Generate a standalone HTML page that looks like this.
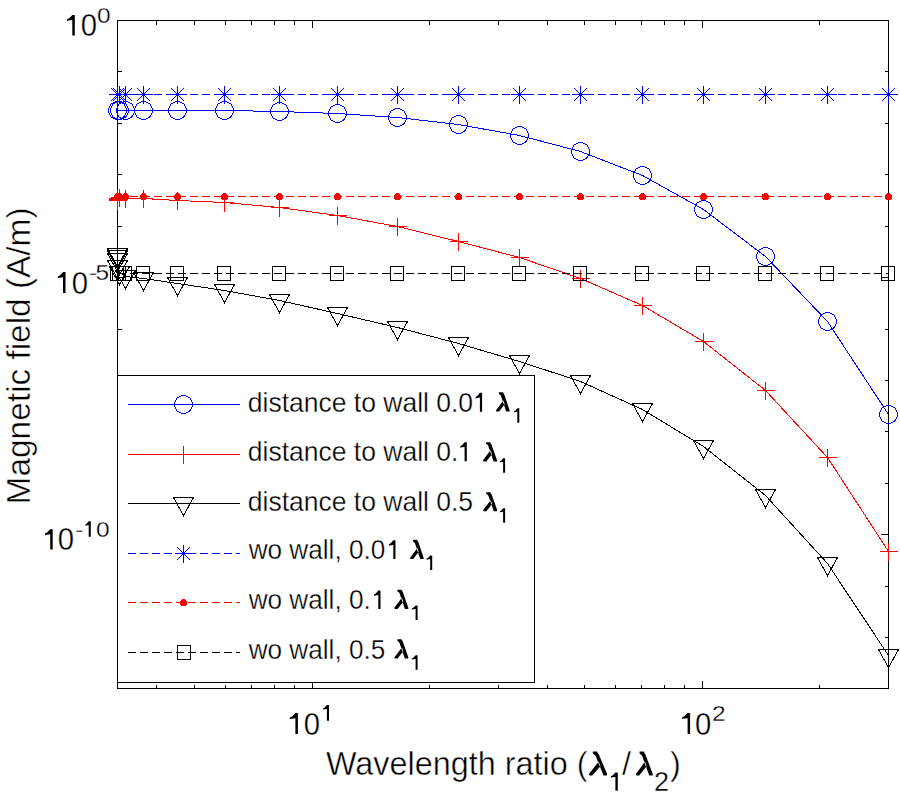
<!DOCTYPE html>
<html><head><meta charset="utf-8"><title>Magnetic field vs wavelength ratio</title>
<style>
html,body{margin:0;padding:0;background:#fff;width:900px;height:800px;overflow:hidden}
svg{position:absolute;left:0;top:0;display:block}
text{font-family:"Liberation Sans",sans-serif;fill:#000000;stroke:#fff;stroke-width:0.3px}
</style></head><body>
<svg width="900" height="800" viewBox="0 0 900 800" stroke-width="1" shape-rendering="crispEdges">
<rect x="0" y="0" width="900" height="800" fill="#fff"/>
<path d="M156.5 688.5V684.5M156.5 20.5V24.5M194.5 688.5V684.5M194.5 20.5V24.5M225.5 688.5V684.5M225.5 20.5V24.5M251.5 688.5V684.5M251.5 20.5V24.5M274.5 688.5V684.5M274.5 20.5V24.5M294.5 688.5V684.5M294.5 20.5V24.5M312.5 688.5V681M312.5 20.5V28M429.5 688.5V684.5M429.5 20.5V24.5M498.5 688.5V684.5M498.5 20.5V24.5M547.5 688.5V684.5M547.5 20.5V24.5M584.5 688.5V684.5M584.5 20.5V24.5M615.5 688.5V684.5M615.5 20.5V24.5M641.5 688.5V684.5M641.5 20.5V24.5M664.5 688.5V684.5M664.5 20.5V24.5M684.5 688.5V684.5M684.5 20.5V24.5M702.5 688.5V681M702.5 20.5V28M819.5 688.5V684.5M819.5 20.5V24.5M888.5 688.5V684.5M888.5 20.5V24.5M117.5 20.5H125.5M888.5 20.5H880.5M117.5 71.5H121.5M888.5 71.5H884.5M117.5 123.5H121.5M888.5 123.5H884.5M117.5 174.5H121.5M888.5 174.5H884.5M117.5 226.5H121.5M888.5 226.5H884.5M117.5 277.5H125.5M888.5 277.5H880.5M117.5 329.5H121.5M888.5 329.5H884.5M117.5 380.5H121.5M888.5 380.5H884.5M117.5 431.5H121.5M888.5 431.5H884.5M117.5 483.5H121.5M888.5 483.5H884.5M117.5 534.5H125.5M888.5 534.5H880.5M117.5 586.5H121.5M888.5 586.5H884.5M117.5 637.5H121.5M888.5 637.5H884.5M117.5 688.5H121.5M888.5 688.5H884.5" stroke="#000000" fill="none"/>
<rect x="117.5" y="20.5" width="771.0" height="668.0" fill="none" stroke="#000000"/>
<polyline points="117.5,110.5 117.5,110.5 117.5,110.5 117.5,110.5 119.5,110.5 125.5,110.5 143.5,110.5 177.5,110.5 224.5,110.5 279.5,111.5 337.5,113.5 397.5,117.5 458.5,124.5 519.5,135.5 580.5,151.5 642.5,175.5 703.5,209.5 765.5,256.5 827.5,321.5 888.5,414.5" fill="none" stroke="#0000ff" stroke-width="1"/>
<circle cx="117.5" cy="110.5" r="9" fill="none" stroke="#0000ff"/>
<circle cx="117.5" cy="110.5" r="9" fill="none" stroke="#0000ff"/>
<circle cx="117.5" cy="110.5" r="9" fill="none" stroke="#0000ff"/>
<circle cx="117.5" cy="110.5" r="9" fill="none" stroke="#0000ff"/>
<circle cx="119.5" cy="110.5" r="9" fill="none" stroke="#0000ff"/>
<circle cx="125.5" cy="110.5" r="9" fill="none" stroke="#0000ff"/>
<circle cx="143.5" cy="110.5" r="9" fill="none" stroke="#0000ff"/>
<circle cx="177.5" cy="110.5" r="9" fill="none" stroke="#0000ff"/>
<circle cx="224.5" cy="110.5" r="9" fill="none" stroke="#0000ff"/>
<circle cx="279.5" cy="111.5" r="9" fill="none" stroke="#0000ff"/>
<circle cx="337.5" cy="113.5" r="9" fill="none" stroke="#0000ff"/>
<circle cx="397.5" cy="117.5" r="9" fill="none" stroke="#0000ff"/>
<circle cx="458.5" cy="124.5" r="9" fill="none" stroke="#0000ff"/>
<circle cx="519.5" cy="135.5" r="9" fill="none" stroke="#0000ff"/>
<circle cx="580.5" cy="151.5" r="9" fill="none" stroke="#0000ff"/>
<circle cx="642.5" cy="175.5" r="9" fill="none" stroke="#0000ff"/>
<circle cx="703.5" cy="209.5" r="9" fill="none" stroke="#0000ff"/>
<circle cx="765.5" cy="256.5" r="9" fill="none" stroke="#0000ff"/>
<circle cx="827.5" cy="321.5" r="9" fill="none" stroke="#0000ff"/>
<circle cx="888.5" cy="414.5" r="9" fill="none" stroke="#0000ff"/>
<polyline points="117.5,200.5 117.5,199.5 117.5,198.5 117.5,198.5 119.5,197.5 125.5,198.5 143.5,198.5 177.5,200.5 224.5,202.5 279.5,207.5 337.5,215.5 397.5,226.5 458.5,241.5 519.5,257.5 580.5,278.5 642.5,305.5 703.5,341.5 765.5,390.5 827.5,457.5 888.5,551.5" fill="none" stroke="#ff0000" stroke-width="1"/>
<path d="M108.5 200.5H126.5M117.5 191.5V209.5" stroke="#ff0000"/>
<path d="M108.5 199.5H126.5M117.5 190.5V208.5" stroke="#ff0000"/>
<path d="M108.5 198.5H126.5M117.5 189.5V207.5" stroke="#ff0000"/>
<path d="M108.5 198.5H126.5M117.5 189.5V207.5" stroke="#ff0000"/>
<path d="M110.5 197.5H128.5M119.5 188.5V206.5" stroke="#ff0000"/>
<path d="M116.5 198.5H134.5M125.5 189.5V207.5" stroke="#ff0000"/>
<path d="M134.5 198.5H152.5M143.5 189.5V207.5" stroke="#ff0000"/>
<path d="M168.5 200.5H186.5M177.5 191.5V209.5" stroke="#ff0000"/>
<path d="M215.5 202.5H233.5M224.5 193.5V211.5" stroke="#ff0000"/>
<path d="M270.5 207.5H288.5M279.5 198.5V216.5" stroke="#ff0000"/>
<path d="M328.5 215.5H346.5M337.5 206.5V224.5" stroke="#ff0000"/>
<path d="M388.5 226.5H406.5M397.5 217.5V235.5" stroke="#ff0000"/>
<path d="M449.5 241.5H467.5M458.5 232.5V250.5" stroke="#ff0000"/>
<path d="M510.5 257.5H528.5M519.5 248.5V266.5" stroke="#ff0000"/>
<path d="M571.5 278.5H589.5M580.5 269.5V287.5" stroke="#ff0000"/>
<path d="M633.5 305.5H651.5M642.5 296.5V314.5" stroke="#ff0000"/>
<path d="M694.5 341.5H712.5M703.5 332.5V350.5" stroke="#ff0000"/>
<path d="M756.5 390.5H774.5M765.5 381.5V399.5" stroke="#ff0000"/>
<path d="M818.5 457.5H836.5M827.5 448.5V466.5" stroke="#ff0000"/>
<path d="M879.5 551.5H897.5M888.5 542.5V560.5" stroke="#ff0000"/>
<polyline points="117.5,254.5 117.5,256.5 117.5,259.5 117.5,266.5 119.5,272.5 125.5,276.5 143.5,278.5 177.5,283.5 224.5,290.5 279.5,300.5 337.5,313.5 397.5,327.5 458.5,343.5 519.5,361.5 580.5,381.5 642.5,409.5 703.5,446.5 765.5,495.5 827.5,563.5 888.5,655.5" fill="none" stroke="#000000" stroke-width="1"/>
<path d="M107.5 248.5H127.5L117.5 266.5Z" fill="none" stroke="#000000"/>
<path d="M107.5 250.5H127.5L117.5 268.5Z" fill="none" stroke="#000000"/>
<path d="M107.5 253.5H127.5L117.5 271.5Z" fill="none" stroke="#000000"/>
<path d="M107.5 260.5H127.5L117.5 278.5Z" fill="none" stroke="#000000"/>
<path d="M109.5 266.5H129.5L119.5 284.5Z" fill="none" stroke="#000000"/>
<path d="M115.5 270.5H135.5L125.5 288.5Z" fill="none" stroke="#000000"/>
<path d="M133.5 272.5H153.5L143.5 290.5Z" fill="none" stroke="#000000"/>
<path d="M167.5 277.5H187.5L177.5 295.5Z" fill="none" stroke="#000000"/>
<path d="M214.5 284.5H234.5L224.5 302.5Z" fill="none" stroke="#000000"/>
<path d="M269.5 294.5H289.5L279.5 312.5Z" fill="none" stroke="#000000"/>
<path d="M327.5 307.5H347.5L337.5 325.5Z" fill="none" stroke="#000000"/>
<path d="M387.5 321.5H407.5L397.5 339.5Z" fill="none" stroke="#000000"/>
<path d="M448.5 337.5H468.5L458.5 355.5Z" fill="none" stroke="#000000"/>
<path d="M509.5 355.5H529.5L519.5 373.5Z" fill="none" stroke="#000000"/>
<path d="M570.5 375.5H590.5L580.5 393.5Z" fill="none" stroke="#000000"/>
<path d="M632.5 403.5H652.5L642.5 421.5Z" fill="none" stroke="#000000"/>
<path d="M693.5 440.5H713.5L703.5 458.5Z" fill="none" stroke="#000000"/>
<path d="M755.5 489.5H775.5L765.5 507.5Z" fill="none" stroke="#000000"/>
<path d="M817.5 557.5H837.5L827.5 575.5Z" fill="none" stroke="#000000"/>
<path d="M878.5 649.5H898.5L888.5 667.5Z" fill="none" stroke="#000000"/>
<path d="M117.5 94.5H888.5" stroke="#0000ff" stroke-dasharray="8 4"/>
<path d="M108.5 94.5H126.5M117.5 85.5V103.5M111 88L124 101M111 101L124 88" stroke="#0000ff"/>
<path d="M108.5 94.5H126.5M117.5 85.5V103.5M111 88L124 101M111 101L124 88" stroke="#0000ff"/>
<path d="M108.5 94.5H126.5M117.5 85.5V103.5M111 88L124 101M111 101L124 88" stroke="#0000ff"/>
<path d="M108.5 94.5H126.5M117.5 85.5V103.5M111 88L124 101M111 101L124 88" stroke="#0000ff"/>
<path d="M110.5 94.5H128.5M119.5 85.5V103.5M113 88L126 101M113 101L126 88" stroke="#0000ff"/>
<path d="M116.5 94.5H134.5M125.5 85.5V103.5M119 88L132 101M119 101L132 88" stroke="#0000ff"/>
<path d="M134.5 94.5H152.5M143.5 85.5V103.5M137 88L150 101M137 101L150 88" stroke="#0000ff"/>
<path d="M168.5 94.5H186.5M177.5 85.5V103.5M171 88L184 101M171 101L184 88" stroke="#0000ff"/>
<path d="M215.5 94.5H233.5M224.5 85.5V103.5M218 88L231 101M218 101L231 88" stroke="#0000ff"/>
<path d="M270.5 94.5H288.5M279.5 85.5V103.5M273 88L286 101M273 101L286 88" stroke="#0000ff"/>
<path d="M328.5 94.5H346.5M337.5 85.5V103.5M331 88L344 101M331 101L344 88" stroke="#0000ff"/>
<path d="M388.5 94.5H406.5M397.5 85.5V103.5M391 88L404 101M391 101L404 88" stroke="#0000ff"/>
<path d="M449.5 94.5H467.5M458.5 85.5V103.5M452 88L465 101M452 101L465 88" stroke="#0000ff"/>
<path d="M510.5 94.5H528.5M519.5 85.5V103.5M513 88L526 101M513 101L526 88" stroke="#0000ff"/>
<path d="M571.5 94.5H589.5M580.5 85.5V103.5M574 88L587 101M574 101L587 88" stroke="#0000ff"/>
<path d="M633.5 94.5H651.5M642.5 85.5V103.5M636 88L649 101M636 101L649 88" stroke="#0000ff"/>
<path d="M694.5 94.5H712.5M703.5 85.5V103.5M697 88L710 101M697 101L710 88" stroke="#0000ff"/>
<path d="M756.5 94.5H774.5M765.5 85.5V103.5M759 88L772 101M759 101L772 88" stroke="#0000ff"/>
<path d="M818.5 94.5H836.5M827.5 85.5V103.5M821 88L834 101M821 101L834 88" stroke="#0000ff"/>
<path d="M879.5 94.5H897.5M888.5 85.5V103.5M882 88L895 101M882 101L895 88" stroke="#0000ff"/>
<path d="M117.5 196.5H888.5" stroke="#ff0000" stroke-dasharray="8 4"/>
<circle cx="117.5" cy="196.5" r="3.5" fill="#ff0000"/>
<circle cx="117.5" cy="196.5" r="3.5" fill="#ff0000"/>
<circle cx="117.5" cy="196.5" r="3.5" fill="#ff0000"/>
<circle cx="117.5" cy="196.5" r="3.5" fill="#ff0000"/>
<circle cx="119.5" cy="196.5" r="3.5" fill="#ff0000"/>
<circle cx="125.5" cy="196.5" r="3.5" fill="#ff0000"/>
<circle cx="143.5" cy="196.5" r="3.5" fill="#ff0000"/>
<circle cx="177.5" cy="196.5" r="3.5" fill="#ff0000"/>
<circle cx="224.5" cy="196.5" r="3.5" fill="#ff0000"/>
<circle cx="279.5" cy="196.5" r="3.5" fill="#ff0000"/>
<circle cx="337.5" cy="196.5" r="3.5" fill="#ff0000"/>
<circle cx="397.5" cy="196.5" r="3.5" fill="#ff0000"/>
<circle cx="458.5" cy="196.5" r="3.5" fill="#ff0000"/>
<circle cx="519.5" cy="196.5" r="3.5" fill="#ff0000"/>
<circle cx="580.5" cy="196.5" r="3.5" fill="#ff0000"/>
<circle cx="642.5" cy="196.5" r="3.5" fill="#ff0000"/>
<circle cx="703.5" cy="196.5" r="3.5" fill="#ff0000"/>
<circle cx="765.5" cy="196.5" r="3.5" fill="#ff0000"/>
<circle cx="827.5" cy="196.5" r="3.5" fill="#ff0000"/>
<circle cx="888.5" cy="196.5" r="3.5" fill="#ff0000"/>
<path d="M117.5 273.5H888.5" stroke="#000000" stroke-dasharray="8 4"/>
<rect x="110.5" y="266.5" width="13" height="14" fill="none" stroke="#000000"/>
<rect x="110.5" y="266.5" width="13" height="14" fill="none" stroke="#000000"/>
<rect x="110.5" y="266.5" width="13" height="14" fill="none" stroke="#000000"/>
<rect x="110.5" y="266.5" width="13" height="14" fill="none" stroke="#000000"/>
<rect x="112.5" y="266.5" width="13" height="14" fill="none" stroke="#000000"/>
<rect x="118.5" y="266.5" width="13" height="14" fill="none" stroke="#000000"/>
<rect x="136.5" y="266.5" width="13" height="14" fill="none" stroke="#000000"/>
<rect x="170.5" y="266.5" width="13" height="14" fill="none" stroke="#000000"/>
<rect x="217.5" y="266.5" width="13" height="14" fill="none" stroke="#000000"/>
<rect x="272.5" y="266.5" width="13" height="14" fill="none" stroke="#000000"/>
<rect x="330.5" y="266.5" width="13" height="14" fill="none" stroke="#000000"/>
<rect x="390.5" y="266.5" width="13" height="14" fill="none" stroke="#000000"/>
<rect x="451.5" y="266.5" width="13" height="14" fill="none" stroke="#000000"/>
<rect x="512.5" y="266.5" width="13" height="14" fill="none" stroke="#000000"/>
<rect x="573.5" y="266.5" width="13" height="14" fill="none" stroke="#000000"/>
<rect x="635.5" y="266.5" width="13" height="14" fill="none" stroke="#000000"/>
<rect x="696.5" y="266.5" width="13" height="14" fill="none" stroke="#000000"/>
<rect x="758.5" y="266.5" width="13" height="14" fill="none" stroke="#000000"/>
<rect x="820.5" y="266.5" width="13" height="14" fill="none" stroke="#000000"/>
<rect x="881.5" y="266.5" width="13" height="14" fill="none" stroke="#000000"/>
<rect x="117.5" y="375.5" width="417" height="307" fill="#fff" stroke="#000000"/>
<path d="M128 404.5H239.5" stroke="#0000ff"/>
<circle cx="183.5" cy="404.5" r="9" fill="none" stroke="#0000ff"/>
<path d="M128 454.5H239.5" stroke="#ff0000"/>
<path d="M174.5 454.5H192.5M183.5 445.5V463.5" stroke="#ff0000"/>
<path d="M128 503.5H239.5" stroke="#000000"/>
<path d="M173.5 497.5H193.5L183.5 515.5Z" fill="none" stroke="#000000"/>
<path d="M128 553.5H239.5" stroke="#0000ff" stroke-dasharray="8 4"/>
<path d="M174.5 553.5H192.5M183.5 544.5V562.5M177 547L190 560M177 560L190 547" stroke="#0000ff"/>
<path d="M128 602.5H239.5" stroke="#ff0000" stroke-dasharray="8 4"/>
<circle cx="183.5" cy="602.5" r="3.5" fill="#ff0000"/>
<path d="M128 652.5H239.5" stroke="#000000" stroke-dasharray="8 4"/>
<rect x="177.5" y="645.5" width="13" height="14" fill="none" stroke="#000000"/>
<text transform="translate(247.84 411.7) scale(1 1.05)" font-size="26.5" font-weight="normal">distance to wall 0.0</text>
<path d="M479.9 392.8 L482.1 392.8 L482.1 411.8 L479.9 411.8 L479.9 397.55 L477.11 397.93 L475.6 398.41 L475.6 396.88 L477.54 395.65Z" fill="#000000" stroke="none" shape-rendering="geometricPrecision"/>
<text transform="translate(247.84 461.1) scale(1 1.05)" font-size="26.5" font-weight="normal">distance to wall 0.</text>
<path d="M464.6 442.2 L466.8 442.2 L466.8 461.2 L464.6 461.2 L464.6 446.95 L461.81 447.33 L460.3 447.81 L460.3 446.28 L462.24 445.05Z" fill="#000000" stroke="none" shape-rendering="geometricPrecision"/>
<text transform="translate(247.84 510.9) scale(1 1.05)" font-size="26.5" font-weight="normal">distance to wall 0.5</text>
<text transform="translate(248.7 559.1) scale(1 1.05)" font-size="26.15" font-weight="normal">wo wall, 0.0</text>
<path d="M393.3 540.2 L395.5 540.2 L395.5 559 L393.3 559 L393.3 544.9 L390.5 545.28 L389 545.75 L389 544.24 L390.94 543.02Z" fill="#000000" stroke="none" shape-rendering="geometricPrecision"/>
<text transform="translate(248.7 609) scale(1 1.05)" font-size="26.15" font-weight="normal">wo wall, 0.</text>
<path d="M378.3 590.4 L380.5 590.4 L380.5 608.9 L378.3 608.9 L378.3 595.02 L375.5 595.39 L374 595.86 L374 594.38 L375.94 593.17Z" fill="#000000" stroke="none" shape-rendering="geometricPrecision"/>
<text transform="translate(248.7 658.6) scale(1 1.05)" font-size="26.15" font-weight="normal">wo wall, 0.5</text>
<path d="M498.91 392.3 L502.91 392.3 L504.28 394.62 L509.6 410.25 L509.6 411.6 L506.2 411.6 L500.83 395.39 L498.91 393.94ZM495.9 410.44 L496.31 411.6 L499.13 411.6 L504.67 404.27 L503.3 400.41Z" fill="#000000" shape-rendering="geometricPrecision"/>
<path d="M517.3 408.2 L519.3 408.2 L519.3 422.7 L517.3 422.7 L517.3 411.82 L515.22 412.12 L514.1 412.48 L514.1 411.32 L515.54 410.38Z" fill="#000000" stroke="none" shape-rendering="geometricPrecision"/>
<path d="M486.08 442.2 L490.08 442.2 L491.48 444.52 L497 460.15 L497 461.5 L493.6 461.5 L488.04 445.29 L486.08 443.84ZM483 460.34 L483.42 461.5 L486.23 461.5 L491.96 454.17 L490.56 450.31Z" fill="#000000" shape-rendering="geometricPrecision"/>
<path d="M503.1 458.2 L505.1 458.2 L505.1 472.7 L503.1 472.7 L503.1 461.82 L501.02 462.12 L499.9 462.48 L499.9 461.32 L501.34 460.38Z" fill="#000000" stroke="none" shape-rendering="geometricPrecision"/>
<path d="M486.2 492.2 L490.2 492.2 L491.61 494.49 L497.2 509.96 L497.2 511.3 L493.8 511.3 L488.18 495.26 L486.2 493.82ZM483.1 510.15 L483.52 511.3 L486.33 511.3 L492.12 504.04 L490.71 500.22Z" fill="#000000" shape-rendering="geometricPrecision"/>
<path d="M503.1 508.2 L505.1 508.2 L505.1 522.7 L503.1 522.7 L503.1 511.82 L501.02 512.12 L499.9 512.48 L499.9 511.32 L501.34 510.38Z" fill="#000000" stroke="none" shape-rendering="geometricPrecision"/>
<path d="M412.99 539.8 L416.99 539.8 L418.35 542.12 L423.6 557.75 L423.6 559.1 L420.2 559.1 L414.9 542.89 L412.99 541.44ZM410 557.94 L410.41 559.1 L413.23 559.1 L418.7 551.77 L417.34 547.91Z" fill="#000000" shape-rendering="geometricPrecision"/>
<path d="M430.2 555.5 L432.2 555.5 L432.2 570 L430.2 570 L430.2 559.12 L427.86 559.41 L426.6 559.78 L426.6 558.62 L428.22 557.67Z" fill="#000000" stroke="none" shape-rendering="geometricPrecision"/>
<path d="M397.38 589.7 L401.38 589.7 L402.78 592.02 L408.3 607.65 L408.3 609 L404.9 609 L399.34 592.79 L397.38 591.34ZM394.3 607.84 L394.72 609 L397.53 609 L403.26 601.67 L401.86 597.81Z" fill="#000000" shape-rendering="geometricPrecision"/>
<path d="M415.6 605.4 L417.6 605.4 L417.6 619.9 L415.6 619.9 L415.6 609.02 L413.13 609.31 L411.8 609.68 L411.8 608.52 L413.51 607.57Z" fill="#000000" stroke="none" shape-rendering="geometricPrecision"/>
<path d="M397.38 639.3 L401.38 639.3 L402.78 641.62 L408.3 657.25 L408.3 658.6 L404.9 658.6 L399.34 642.39 L397.38 640.94ZM394.3 657.44 L394.72 658.6 L397.53 658.6 L403.26 651.27 L401.86 647.41Z" fill="#000000" shape-rendering="geometricPrecision"/>
<path d="M415.6 655.3 L417.6 655.3 L417.6 669.8 L415.6 669.8 L415.6 658.92 L413.13 659.21 L411.8 659.58 L411.8 658.42 L413.51 657.47Z" fill="#000000" stroke="none" shape-rendering="geometricPrecision"/>
<path d="M72.3 14.9 L74.8 14.9 L74.8 35.6 L72.3 35.6 L72.3 20.08 L68.92 20.49 L67.1 21.01 L67.1 19.35 L69.44 18.01Z" fill="#000000" stroke="none" shape-rendering="geometricPrecision"/>
<text transform="translate(80.66 36.3) scale(1 1.05)" font-size="29.3" font-weight="normal">0</text>
<text transform="translate(97 22.7) scale(1 0.91)" font-size="24.5" font-weight="normal">0</text>
<path d="M63 272 L65.5 272 L65.5 293.1 L63 293.1 L63 277.27 L59.62 277.7 L57.8 278.22 L57.8 276.54 L60.14 275.17Z" fill="#000000" stroke="none" shape-rendering="geometricPrecision"/>
<text transform="translate(71.66 293.8) scale(1 1.05)" font-size="29.3" font-weight="normal">0</text>
<text transform="translate(89 279.8) scale(1 0.91)" font-size="24.5" font-weight="normal">-</text>
<text transform="translate(95.4 279.8) scale(1 0.91)" font-size="24.5" font-weight="normal">5</text>
<path d="M50.2 529.2 L52.7 529.2 L52.7 549.6 L50.2 549.6 L50.2 534.3 L46.82 534.71 L45 535.22 L45 533.59 L47.34 532.26Z" fill="#000000" stroke="none" shape-rendering="geometricPrecision"/>
<text transform="translate(57.66 550.3) scale(1 1.05)" font-size="29.3" font-weight="normal">0</text>
<text transform="translate(75.3 536.7) scale(1 0.91)" font-size="24.5" font-weight="normal">-</text>
<path d="M88.7 521.25 L90.8 521.25 L90.8 536.7 L88.7 536.7 L88.7 525.11 L86.55 525.42 L85.4 525.81 L85.4 524.57 L86.88 523.57Z" fill="#000000" stroke="none" shape-rendering="geometricPrecision"/>
<text transform="translate(96.1 536.7) scale(1 0.91)" font-size="24.5" font-weight="normal">0</text>
<path d="M295.4 713.1 L297.9 713.1 L297.9 733.9 L295.4 733.9 L295.4 718.3 L291.76 718.72 L289.8 719.24 L289.8 717.57 L292.32 716.22Z" fill="#000000" stroke="none" shape-rendering="geometricPrecision"/>
<text transform="translate(303.76 734.6) scale(1 1.05)" font-size="29.3" font-weight="normal">0</text>
<path d="M326.9 705 L329 705 L329 720.8 L326.9 720.8 L326.9 708.95 L324.5 709.27 L323.2 709.66 L323.2 708.4 L324.87 707.37Z" fill="#000000" stroke="none" shape-rendering="geometricPrecision"/>
<path d="M687.6 712.9 L690.1 712.9 L690.1 733.9 L687.6 733.9 L687.6 718.15 L683.96 718.57 L682 719.1 L682 717.41 L684.52 716.05Z" fill="#000000" stroke="none" shape-rendering="geometricPrecision"/>
<text transform="translate(694.96 734.6) scale(1 1.05)" font-size="29.3" font-weight="normal">0</text>
<text transform="translate(712 721) scale(1 0.91)" font-size="24.5" font-weight="normal">2</text>
<text transform="translate(325.9 774.6) scale(1 1.02)" font-size="32.4" font-weight="normal" style="stroke-width:0.45px">Wavelength ratio (</text>
<path d="M592.88 751.6 L596.98 751.6 L598.79 754.46 L607 773.73 L607 775.4 L603.5 775.4 L595.42 755.41 L592.88 753.62ZM588.9 773.97 L589.44 775.4 L592.23 775.4 L600.48 766.36 L598.67 761.6Z" fill="#000000" shape-rendering="geometricPrecision"/>
<path d="M615.4 772.4 L617.8 772.4 L617.8 790.7 L615.4 790.7 L615.4 776.98 L612.48 777.34 L610.9 777.8 L610.9 776.33 L612.92 775.14Z" fill="#000000" stroke="none" shape-rendering="geometricPrecision"/>
<text transform="translate(622.1 774.7) scale(1 1.0)" font-size="32.4" font-weight="normal" style="stroke-width:0.45px">/</text>
<path d="M639.6 751.6 L643.7 751.6 L645.38 754.46 L652.7 773.73 L652.7 775.4 L649.2 775.4 L641.95 755.41 L639.6 753.62ZM635.9 773.97 L636.4 775.4 L639.23 775.4 L646.65 766.36 L644.97 761.6Z" fill="#000000" shape-rendering="geometricPrecision"/>
<text transform="translate(653.9 790.8) scale(1 1.0)" font-size="27" font-weight="normal">2</text>
<text transform="translate(669.9 774.6) scale(1 1.0)" font-size="32.4" font-weight="normal" style="stroke-width:0.45px">)</text>
<text transform="translate(30 504.4) rotate(-90)" font-size="33.4" style="stroke-width:0.45px">Magnetic field (A/m)</text>
</svg>
</body></html>
